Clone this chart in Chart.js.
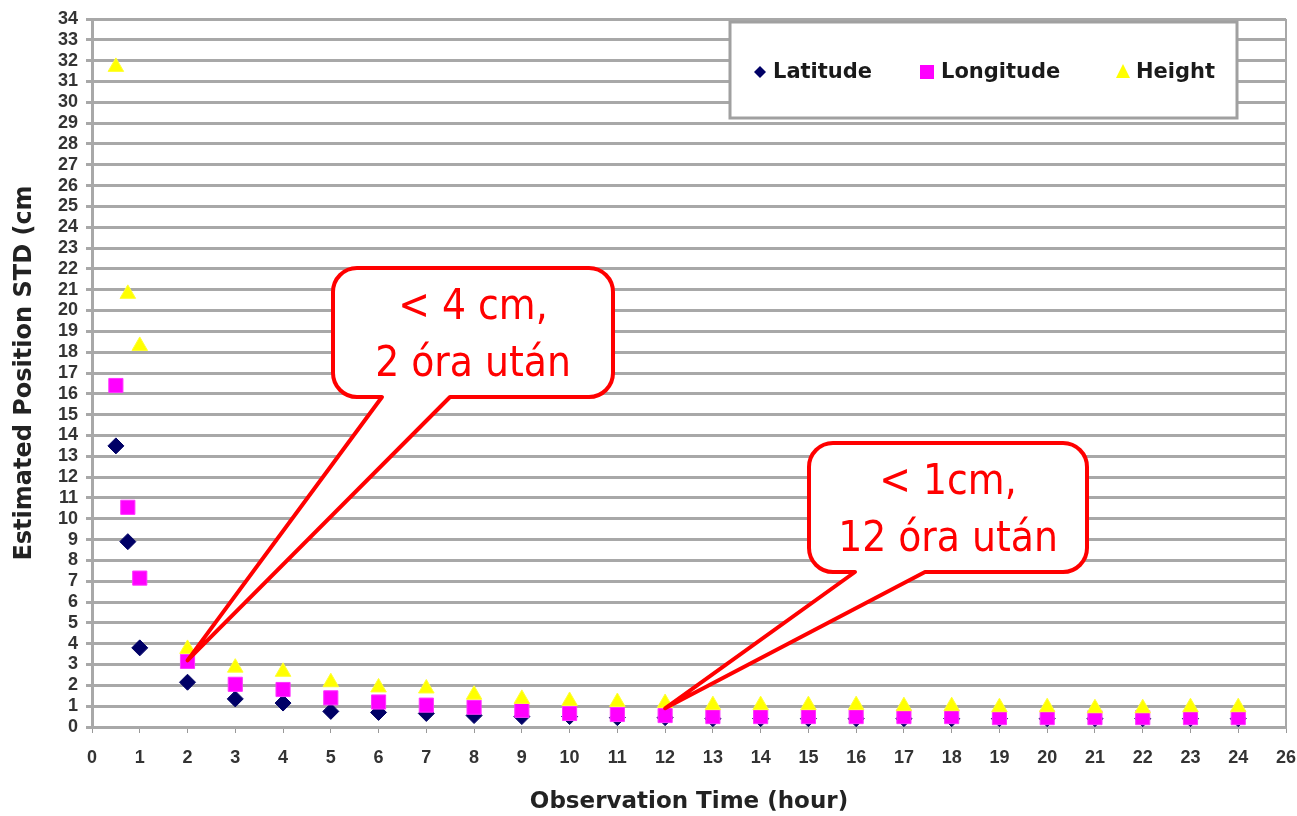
<!DOCTYPE html>
<html>
<head>
<meta charset="utf-8">
<title>Estimated Position STD</title>
<script src="https://cdn.jsdelivr.net/npm/chart.js@4.4.1/dist/chart.umd.min.js"></script>
<style>
    html, body { margin: 0; padding: 0; background: #ffffff; }
    canvas { display: block; }
</style>
</head>
<body>
<canvas id="stdChart" width="1297" height="816"></canvas>
<script>
// observation time (hour)
const hours = [0.5, 0.75, 1, 2, 3, 4, 5, 6, 7, 8, 9, 10, 11, 12, 13, 14, 15, 16, 17, 18, 19, 20, 21, 22, 23, 24];

// estimated position STD (cm)
const latitude = [13.5, 8.9, 3.8, 2.15, 1.35, 1.15, 0.75, 0.7, 0.65, 0.55, 0.5, 0.5, 0.45, 0.45, 0.4, 0.4, 0.4, 0.4, 0.4, 0.4, 0.4, 0.4, 0.4, 0.4, 0.4, 0.4];
const longitude = [16.4, 10.55, 7.15, 3.15, 2.05, 1.8, 1.4, 1.2, 1.05, 0.95, 0.8, 0.65, 0.6, 0.55, 0.5, 0.5, 0.5, 0.5, 0.5, 0.5, 0.45, 0.45, 0.45, 0.45, 0.45, 0.45];
const height = [31.7, 20.8, 18.3, 3.75, 2.85, 2.65, 2.15, 1.9, 1.85, 1.55, 1.35, 1.25, 1.2, 1.15, 1.05, 1.05, 1.05, 1.05, 1.0, 1.0, 0.95, 0.95, 0.9, 0.9, 0.95, 0.95];

// tick labels as printed on the original axis
const xTickLabels = ['0', '1', '2', '3', '4', '5', '6', '7', '8', '9', '10', '11', '12',
    '13', '14', '15', '16', '17', '18', '19', '20', '21', '22', '23', '24', '26'];

const seriesNames = ['Latitude', 'Longitude', 'Height'];

// callouts: text, box in page pixels, and the data point the tail points at
const callouts = [
    { lines: ['< 4 cm,', '2 óra után'], box: [333, 268, 280, 129], tail: [382, 450], at: { x: 2, y: 3.2 } },
    { lines: ['< 1cm,', '12 óra után'], box: [809, 443, 278, 129], tail: [855, 925], at: { x: 12, y: 0.9 } }
];

const toPoints = (values) => values.map((v, i) => ({ x: hours[i], y: v }));

const tickFont = { family: "'Liberation Sans', Arial, sans-serif", size: 18, weight: 'bold' };
const titleFamily = "'DejaVu Sans', 'Liberation Sans', sans-serif";

const frameAndNotes = {
    id: 'frameAndNotes',
    beforeDatasetsDraw(chart) {
        const { ctx, chartArea } = chart;
        ctx.save();
        ctx.strokeStyle = '#a8a8a8';
        ctx.lineWidth = 2;
        ctx.beginPath();
        ctx.moveTo(chartArea.right, chartArea.top);
        ctx.lineTo(chartArea.right, chartArea.bottom);
        ctx.stroke();
        ctx.restore();
    },
    afterDatasetsDraw(chart) {
        const { ctx } = chart;
        const xScale = chart.scales.x;
        const yScale = chart.scales.y;

        // legend box
        ctx.save();
        ctx.fillStyle = '#ffffff';
        ctx.fillRect(730, 22, 507, 96);
        ctx.strokeStyle = '#a0a0a0';
        ctx.lineWidth = 3;
        ctx.strokeRect(730, 22, 507, 96);
        const legendItems = [
            { mx: 760, tx: 773 },
            { mx: 927, tx: 941 },
            { mx: 1123, tx: 1136 }
        ];
        ctx.font = "bold 21px " + titleFamily;
        ctx.textBaseline = 'middle';
        chart.data.datasets.forEach((ds, i) => {
            const item = legendItems[i];
            const cy = 72;
            ctx.fillStyle = ds.backgroundColor;
            ctx.beginPath();
            if (ds.pointStyle === 'rectRot') {
                ctx.moveTo(item.mx, cy - 6);
                ctx.lineTo(item.mx + 6, cy);
                ctx.lineTo(item.mx, cy + 6);
                ctx.lineTo(item.mx - 6, cy);
            } else if (ds.pointStyle === 'rect') {
                ctx.rect(item.mx - 7, cy - 7, 14, 14);
            } else {
                ctx.moveTo(item.mx, cy - 8);
                ctx.lineTo(item.mx + 7, cy + 6);
                ctx.lineTo(item.mx - 7, cy + 6);
            }
            ctx.closePath();
            ctx.fill();
            ctx.fillStyle = '#1a1a1a';
            ctx.textAlign = 'left';
            ctx.fillText(ds.label, item.tx, cy + 1);
        });
        ctx.restore();

        // callouts
        callouts.forEach(c => {
            const [bx, by, bw, bh] = c.box;
            const r = 24;
            const tipX = xScale.getPixelForValue(c.at.x);
            const tipY = yScale.getPixelForValue(c.at.y);
            ctx.save();
            ctx.beginPath();
            ctx.moveTo(bx + r, by);
            ctx.lineTo(bx + bw - r, by);
            ctx.arcTo(bx + bw, by, bx + bw, by + r, r);
            ctx.lineTo(bx + bw, by + bh - r);
            ctx.arcTo(bx + bw, by + bh, bx + bw - r, by + bh, r);
            ctx.lineTo(c.tail[1], by + bh);
            ctx.lineTo(tipX, tipY);
            ctx.lineTo(c.tail[0], by + bh);
            ctx.lineTo(bx + r, by + bh);
            ctx.arcTo(bx, by + bh, bx, by + bh - r, r);
            ctx.lineTo(bx, by + r);
            ctx.arcTo(bx, by, bx + r, by, r);
            ctx.closePath();
            ctx.fillStyle = '#ffffff';
            ctx.fill();
            ctx.strokeStyle = '#ff0000';
            ctx.lineWidth = 4;
            ctx.lineJoin = 'round';
            ctx.stroke();

            ctx.fillStyle = '#ff0000';
            ctx.font = "42px 'Liberation Sans Narrow', 'DejaVu Sans Condensed', 'Liberation Sans', sans-serif";
            ctx.textAlign = 'center';
            ctx.textBaseline = 'middle';
            const cx = bx + bw / 2;
            ctx.fillText(c.lines[0], cx, by + 40);
            ctx.fillText(c.lines[1], cx, by + 97);
            ctx.restore();
        });
    }
};

const ctx = document.getElementById('stdChart').getContext('2d');
const stdChart = new Chart(ctx, {
    type: 'scatter',
    data: {
        datasets: [
            {
                label: seriesNames[0],
                data: toPoints(latitude),
                pointStyle: 'rectRot',
                pointRadius: 8,
                backgroundColor: '#000066',
                borderColor: '#000066',
                borderWidth: 1,
                order: 3
            },
            {
                label: seriesNames[1],
                data: toPoints(longitude),
                pointStyle: 'rect',
                pointRadius: 10,
                backgroundColor: '#ff00ff',
                borderColor: '#ff33ff',
                borderWidth: 1,
                order: 2
            },
            {
                label: seriesNames[2],
                data: toPoints(height),
                pointStyle: 'triangle',
                pointRadius: 9,
                backgroundColor: '#ffff00',
                borderColor: '#ffff33',
                borderWidth: 1,
                order: 1
            }
        ]
    },
    options: {
        responsive: false,
        animation: false,
        devicePixelRatio: 1,
        layout: {
            padding: { left: 0, right: 9, top: 19, bottom: 0 }
        },
        plugins: {
            legend: { display: false },
            tooltip: { enabled: false }
        },
        scales: {
            x: {
                type: 'linear',
                min: 0,
                max: 25,
                afterFit: (scale) => {
                    scale.height = 89;
                    scale.paddingRight = 0;
                    scale.paddingLeft = 0;
                },
                afterBuildTicks: (scale) => {
                    scale.ticks = xTickLabels.map((_, i) => ({ value: i }));
                },
                ticks: {
                    stepSize: 1,
                    autoSkip: false,
                    maxRotation: 0,
                    padding: 14,
                    color: '#333333',
                    font: tickFont,
                    callback: (value, index) => xTickLabels[index]
                },
                grid: {
                    drawOnChartArea: false,
                    drawTicks: true,
                    tickLength: 6,
                    tickColor: '#999999'
                },
                border: { display: true, color: '#a8a8a8', width: 3 },
                title: {
                    display: true,
                    text: 'Observation Time (hour)',
                    color: '#222222',
                    font: { family: titleFamily, size: 23, weight: 'bold' },
                    padding: { top: 6, bottom: 0 }
                }
            },
            y: {
                min: 0,
                max: 34,
                afterFit: (scale) => { scale.width = 92; },
                ticks: {
                    stepSize: 1,
                    autoSkip: false,
                    padding: 8,
                    color: '#333333',
                    font: tickFont
                },
                grid: {
                    color: '#a8a8a8',
                    lineWidth: 3,
                    tickLength: 6,
                    tickColor: '#a8a8a8'
                },
                border: { display: true, color: '#a8a8a8', width: 3 },
                title: {
                    display: true,
                    text: 'Estimated Position STD (cm',
                    color: '#222222',
                    font: { family: titleFamily, size: 24, weight: 'bold' },
                    padding: { top: 10, bottom: 0 }
                }
            }
        }
    },
    plugins: [frameAndNotes]
});
</script>
</body>
</html>
